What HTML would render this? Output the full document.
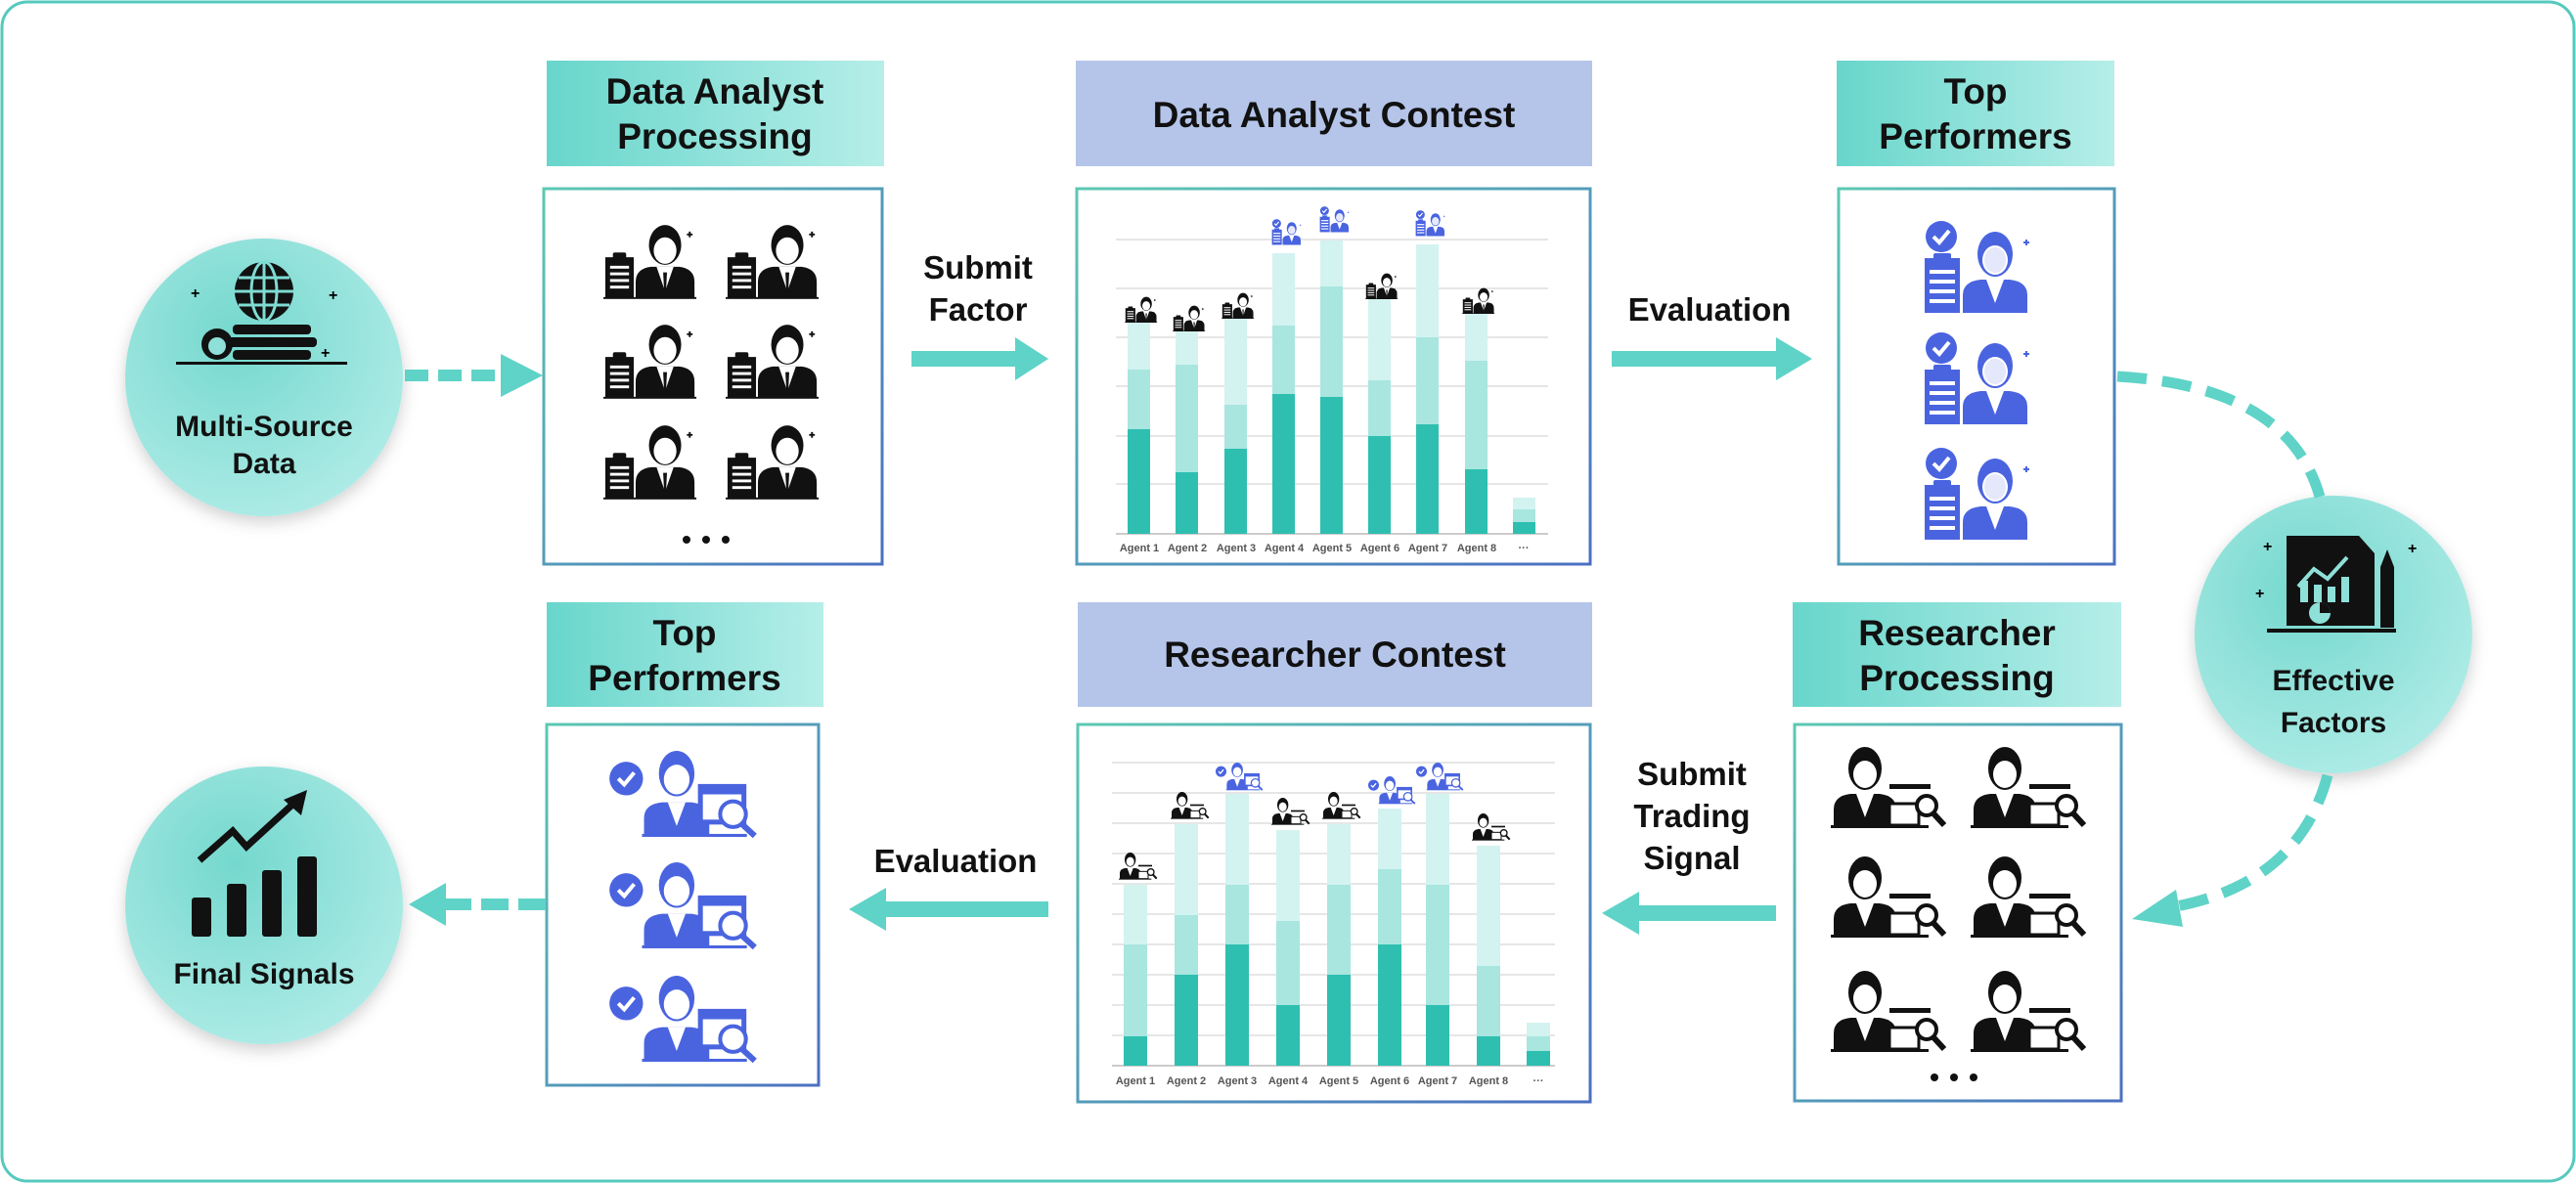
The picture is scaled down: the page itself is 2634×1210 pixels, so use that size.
<!DOCTYPE html>
<html><head><meta charset="utf-8"><style>
html,body{margin:0;padding:0;background:#fff}
svg{display:block}
text{font-family:"Liberation Sans",Arial,sans-serif}
</style></head><body>
<svg width="2634" height="1210" viewBox="0 0 2634 1210" xmlns="http://www.w3.org/2000/svg">
<defs>
<linearGradient id="hg" x1="0" y1="0" x2="1" y2="0"><stop offset="0" stop-color="#68d6cb"/><stop offset="1" stop-color="#b6eee9"/></linearGradient>
<linearGradient id="bd" x1="0" y1="0" x2="1" y2="1"><stop offset="0" stop-color="#5cc8b2"/><stop offset="1" stop-color="#4b6fc1"/></linearGradient>
<radialGradient id="cg" cx="0.4" cy="0.35" r="0.75"><stop offset="0" stop-color="#74d8ce"/><stop offset="1" stop-color="#b3ede8"/></radialGradient>
<filter id="sh" x="-20%" y="-20%" width="140%" height="140%"><feDropShadow dx="0" dy="6" stdDeviation="8" flood-color="#000" flood-opacity="0.18"/></filter>
<symbol id="an" viewBox="0 0 100 80">
<rect x="2" y="36" width="30" height="43" fill="#111"/><rect x="10" y="31" width="14" height="8" rx="2" fill="#111"/>
<rect x="7" y="45" width="20" height="3" fill="#fff"/><rect x="7" y="52" width="20" height="3" fill="#fff"/><rect x="7" y="59" width="20" height="3" fill="#fff"/><rect x="7" y="66" width="20" height="3" fill="#fff"/>
<path d="M34 79 V62 Q34 48 50 46 L80 46 Q96 48 96 62 V79 Z" fill="#111"/>
<path d="M56 46 L65 72 L74 46 Z" fill="#fff"/><path d="M63 52 L67 52 L66 72 L64 72Z" fill="#111"/>
<ellipse cx="65" cy="23" rx="17" ry="21" fill="#111"/><ellipse cx="65" cy="29" rx="12" ry="14" fill="#fff"/>
<path d="M88 12h6M91 9v6" stroke="#111" stroke-width="2"/><rect x="0" y="78" width="98" height="2" fill="#111"/>
</symbol>
<symbol id="bp" viewBox="0 0 120 100">
<circle cx="22" cy="20" r="16" fill="#4a64e0"/><path d="M14 20 L20 26 L30 14" stroke="#fff" stroke-width="4" fill="none"/>
<rect x="5" y="42" width="36" height="56" fill="#4a64e0"/><rect x="14" y="37" width="18" height="8" rx="2" fill="#4a64e0"/>
<rect x="10" y="54" width="26" height="4" fill="#fff"/><rect x="10" y="64" width="26" height="4" fill="#fff"/><rect x="10" y="74" width="26" height="4" fill="#fff"/><rect x="10" y="84" width="26" height="4" fill="#fff"/>
<path d="M44 98 V80 Q44 66 62 64 L92 64 Q110 66 110 80 V98 Z" fill="#4a64e0"/>
<path d="M68 64 L77 88 L86 64 Z" fill="#fff"/>
<ellipse cx="77" cy="38" rx="18" ry="23" fill="#4a64e0"/><ellipse cx="77" cy="44" rx="13" ry="15" fill="#fff"/><ellipse cx="77" cy="44" rx="11" ry="13" fill="#4a64e0" opacity="0.15"/>
<path d="M106 26h6M109 23v6" stroke="#4a64e0" stroke-width="2"/>
</symbol>
<symbol id="rs" viewBox="0 0 120 85">
<path d="M3 84 V66 Q3 52 20 50 L50 50 Q67 52 67 66 V84 Z" fill="#111"/>
<path d="M26 50 L35 74 L44 50 Z" fill="#fff"/>
<ellipse cx="35" cy="24" rx="17" ry="22" fill="#111"/><ellipse cx="35" cy="30" rx="12" ry="14" fill="#fff"/>
<rect x="60" y="40" width="42" height="5" fill="#111"/><rect x="60" y="60" width="30" height="22" fill="#fff" stroke="#111" stroke-width="3"/>
<circle cx="98" cy="62" r="10" fill="#fff" stroke="#111" stroke-width="4"/><path d="M105 70 L116 82" stroke="#111" stroke-width="6"/>
<rect x="0" y="82" width="100" height="3" fill="#111"/>
</symbol>
<symbol id="br" viewBox="0 0 160 90">
<circle cx="20" cy="30" r="17" fill="#4a64e0"/><path d="M12 30 L18 36 L28 24" stroke="#fff" stroke-width="4" fill="none"/>
<path d="M38 88 V70 Q38 56 56 54 L86 54 Q104 56 104 70 V88 Z" fill="#4a64e0"/>
<path d="M62 54 L71 78 L80 54 Z" fill="#fff"/>
<ellipse cx="71" cy="25" rx="18" ry="23" fill="#4a64e0"/><ellipse cx="71" cy="31" rx="13" ry="15" fill="#fff"/>
<rect x="95" y="38" width="44" height="36" fill="#fff" stroke="#4a64e0" stroke-width="5"/><rect x="95" y="38" width="44" height="8" fill="#4a64e0"/>
<circle cx="128" cy="66" r="13" fill="#fff" stroke="#4a64e0" stroke-width="4"/><path d="M137 76 L150 88" stroke="#4a64e0" stroke-width="6"/>
<rect x="36" y="86" width="106" height="3" fill="#4a64e0"/>
</symbol>
</defs>

<rect x="2" y="2" width="2630" height="1206" rx="26" fill="#fff" stroke="#56c9bd" stroke-width="3"/>

<!-- circles -->
<g filter="url(#sh)">
<circle cx="270" cy="386" r="142" fill="url(#cg)"/>
<circle cx="2386" cy="649" r="142" fill="url(#cg)"/>
<circle cx="270" cy="926" r="142" fill="url(#cg)"/>
</g>
<!-- multi-source icon -->
<g>
<circle cx="270" cy="298" r="30" fill="#111"/>
<g stroke="#7fdcd3" stroke-width="3" fill="none"><ellipse cx="270" cy="298" rx="13" ry="30"/><line x1="240" y1="298" x2="300" y2="298"/><line x1="244" y1="284" x2="296" y2="284"/><line x1="244" y1="312" x2="296" y2="312"/><line x1="270" y1="268" x2="270" y2="328"/></g>
<rect x="238" y="332" width="80" height="10" rx="4" fill="#111"/><rect x="232" y="345" width="92" height="10" rx="4" fill="#111"/><rect x="238" y="358" width="80" height="10" rx="4" fill="#111"/>
<circle cx="222" cy="352" r="16" fill="#111"/><circle cx="222" cy="354" r="9" fill="#8ee0d8"/>
<rect x="180" y="370" width="175" height="3" fill="#111"/>
<text x="195" y="305" font-size="16" font-weight="bold">+</text><text x="336" y="307" font-size="16" font-weight="bold">+</text><text x="328" y="366" font-size="16" font-weight="bold">+</text>
<text x="270" y="446" font-size="30" font-weight="bold" text-anchor="middle" fill="#111">Multi-Source</text>
<text x="270" y="484" font-size="30" font-weight="bold" text-anchor="middle" fill="#111">Data</text>
</g>
<!-- effective factors icon -->
<g>
<path d="M2338 548 L2412 548 L2428 566 L2428 640 L2338 640 Z" fill="#111"/>
<path d="M2350 600 L2366 582 L2380 592 L2400 570" stroke="#8ee0d8" stroke-width="4" fill="none"/>
<rect x="2352" y="594" width="8" height="22" fill="#8ee0d8"/><rect x="2366" y="598" width="8" height="18" fill="#8ee0d8"/><rect x="2380" y="600" width="8" height="16" fill="#8ee0d8"/><rect x="2394" y="590" width="8" height="26" fill="#8ee0d8"/>
<circle cx="2372" cy="627" r="11" fill="#8ee0d8"/><path d="M2372 627 L2372 616 A11 11 0 0 1 2383 627Z" fill="#111"/>
<rect x="2434" y="580" width="14" height="62" fill="#111"/><path d="M2434 580 L2441 562 L2448 580Z" fill="#111"/>
<rect x="2318" y="643" width="132" height="4" fill="#111"/>
<text x="2314" y="564" font-size="16" font-weight="bold">+</text><text x="2462" y="566" font-size="16" font-weight="bold">+</text><text x="2306" y="612" font-size="16" font-weight="bold">+</text>
<text x="2386" y="706" font-size="30" font-weight="bold" text-anchor="middle" fill="#111">Effective</text>
<text x="2386" y="749" font-size="30" font-weight="bold" text-anchor="middle" fill="#111">Factors</text>
</g>
<!-- final signals icon -->
<g fill="#111">
<rect x="196" y="918" width="20" height="40" rx="3"/><rect x="232" y="904" width="20" height="54" rx="3"/><rect x="268" y="890" width="20" height="68" rx="3"/><rect x="304" y="876" width="20" height="82" rx="3"/>
<path d="M204 880 L238 850 L252 866 L300 822" stroke="#111" stroke-width="7" fill="none"/>
<path d="M290 818 L314 808 L308 834Z"/>
<text x="270" y="1006" font-size="30" font-weight="bold" text-anchor="middle">Final Signals</text>
</g>

<!-- headers -->
<rect x="559" y="62" width="345" height="108" fill="url(#hg)"/>
<text x="731" y="106" font-size="37" font-weight="bold" text-anchor="middle" fill="#111">Data Analyst</text>
<text x="731" y="152" font-size="37" font-weight="bold" text-anchor="middle" fill="#111">Processing</text>
<rect x="1100" y="62" width="528" height="108" fill="#b5c5ea"/>
<text x="1364" y="130" font-size="37" font-weight="bold" text-anchor="middle" fill="#111">Data Analyst Contest</text>
<rect x="1878" y="62" width="284" height="108" fill="url(#hg)"/>
<text x="2020" y="106" font-size="37" font-weight="bold" text-anchor="middle" fill="#111">Top</text>
<text x="2020" y="152" font-size="37" font-weight="bold" text-anchor="middle" fill="#111">Performers</text>
<rect x="559" y="616" width="283" height="107" fill="url(#hg)"/>
<text x="700" y="660" font-size="37" font-weight="bold" text-anchor="middle" fill="#111">Top</text>
<text x="700" y="706" font-size="37" font-weight="bold" text-anchor="middle" fill="#111">Performers</text>
<rect x="1102" y="616" width="526" height="107" fill="#b5c5ea"/>
<text x="1365" y="682" font-size="37" font-weight="bold" text-anchor="middle" fill="#111">Researcher Contest</text>
<rect x="1833" y="616" width="336" height="107" fill="url(#hg)"/>
<text x="2001" y="660" font-size="37" font-weight="bold" text-anchor="middle" fill="#111">Researcher</text>
<text x="2001" y="706" font-size="37" font-weight="bold" text-anchor="middle" fill="#111">Processing</text>

<!-- boxes -->
<g fill="#fff" stroke="url(#bd)" stroke-width="3">
<rect x="556" y="193" width="346" height="384"/>
<rect x="1101" y="193" width="525" height="384"/>
<rect x="1880" y="193" width="282" height="384"/>
<rect x="559" y="741" width="278" height="369"/>
<rect x="1102" y="741" width="524" height="386"/>
<rect x="1835" y="741" width="334" height="385"/>
</g>

<!-- box1 icons -->
<use href="#an" x="617" y="228" width="97" height="78"/><use href="#an" x="742" y="228" width="97" height="78"/>
<use href="#an" x="617" y="330" width="97" height="78"/><use href="#an" x="742" y="330" width="97" height="78"/>
<use href="#an" x="617" y="433" width="97" height="78"/><use href="#an" x="742" y="433" width="97" height="78"/>
<circle cx="702" cy="552" r="4" fill="#111"/><circle cx="722" cy="552" r="4" fill="#111"/><circle cx="742" cy="552" r="4" fill="#111"/>

<!-- box3 icons -->
<use href="#bp" x="1962" y="222" width="122" height="100"/>
<use href="#bp" x="1962" y="336" width="122" height="100"/>
<use href="#bp" x="1962" y="454" width="122" height="100"/>

<!-- bottom-left box icons -->
<use href="#br" x="620" y="766" width="162" height="91"/>
<use href="#br" x="620" y="880" width="162" height="91"/>
<use href="#br" x="620" y="996" width="162" height="91"/>

<!-- researcher processing icons -->
<use href="#rs" x="1872" y="762" width="120" height="85"/><use href="#rs" x="2015" y="762" width="120" height="85"/>
<use href="#rs" x="1872" y="874" width="120" height="85"/><use href="#rs" x="2015" y="874" width="120" height="85"/>
<use href="#rs" x="1872" y="991" width="120" height="85"/><use href="#rs" x="2015" y="991" width="120" height="85"/>
<circle cx="1978" cy="1102" r="4" fill="#111"/><circle cx="1998" cy="1102" r="4" fill="#111"/><circle cx="2018" cy="1102" r="4" fill="#111"/>

<!-- top chart -->
<g transform="translate(1101,193)">
<g stroke="#e6e6e6" stroke-width="2"><line x1="40" y1="52" x2="482" y2="52"/><line x1="40" y1="102" x2="482" y2="102"/><line x1="40" y1="152" x2="482" y2="152"/><line x1="40" y1="202" x2="482" y2="202"/><line x1="40" y1="253" x2="482" y2="253"/><line x1="40" y1="302" x2="482" y2="302"/></g>
<line x1="40" y1="353" x2="482" y2="353" stroke="#ccc" stroke-width="2"/>
<g>
<rect x="52" y="135" width="23" height="50" fill="#d3f3f0"/><rect x="52" y="185" width="23" height="61" fill="#a8e6df"/><rect x="52" y="246" width="23" height="107" fill="#2ebfb0"/>
<rect x="101" y="143" width="23" height="37" fill="#d3f3f0"/><rect x="101" y="180" width="23" height="110" fill="#a8e6df"/><rect x="101" y="290" width="23" height="63" fill="#2ebfb0"/>
<rect x="151" y="131" width="23" height="90" fill="#d3f3f0"/><rect x="151" y="221" width="23" height="45" fill="#a8e6df"/><rect x="151" y="266" width="23" height="87" fill="#2ebfb0"/>
<rect x="200" y="66" width="23" height="74" fill="#d3f3f0"/><rect x="200" y="140" width="23" height="70" fill="#a8e6df"/><rect x="200" y="210" width="23" height="143" fill="#2ebfb0"/>
<rect x="249" y="53" width="23" height="47" fill="#d3f3f0"/><rect x="249" y="100" width="23" height="113" fill="#a8e6df"/><rect x="249" y="213" width="23" height="140" fill="#2ebfb0"/>
<rect x="298" y="110" width="23" height="86" fill="#d3f3f0"/><rect x="298" y="196" width="23" height="57" fill="#a8e6df"/><rect x="298" y="253" width="23" height="100" fill="#2ebfb0"/>
<rect x="347" y="57" width="23" height="95" fill="#d3f3f0"/><rect x="347" y="152" width="23" height="89" fill="#a8e6df"/><rect x="347" y="241" width="23" height="112" fill="#2ebfb0"/>
<rect x="397" y="125" width="23" height="51" fill="#d3f3f0"/><rect x="397" y="176" width="23" height="111" fill="#a8e6df"/><rect x="397" y="287" width="23" height="66" fill="#2ebfb0"/>
<rect x="446" y="316" width="23" height="12" fill="#d3f3f0"/><rect x="446" y="328" width="23" height="13" fill="#a8e6df"/><rect x="446" y="341" width="23" height="12" fill="#2ebfb0"/>
</g>
<use href="#an" x="49" y="110" width="34" height="27"/><use href="#an" x="98" y="119" width="34" height="27"/><use href="#an" x="148" y="106" width="34" height="27"/>
<use href="#an" x="295" y="86" width="34" height="27"/><use href="#an" x="394" y="101" width="34" height="27"/>
<use href="#bp" x="198" y="30" width="34" height="28"/><use href="#bp" x="247" y="17" width="34" height="28"/><use href="#bp" x="345" y="21" width="34" height="28"/>
<g font-size="11" fill="#555" text-anchor="middle" font-weight="bold">
<text x="64" y="371">Agent 1</text><text x="113" y="371">Agent 2</text><text x="163" y="371">Agent 3</text><text x="212" y="371">Agent 4</text><text x="261" y="371">Agent 5</text><text x="310" y="371">Agent 6</text><text x="359" y="371">Agent 7</text><text x="409" y="371">Agent 8</text><text x="457" y="371">···</text>
</g>
</g>

<!-- bottom chart -->
<g transform="translate(1102,741)">
<g stroke="#e6e6e6" stroke-width="2"><line x1="35" y1="39" x2="488" y2="39"/><line x1="35" y1="70" x2="488" y2="70"/><line x1="35" y1="101" x2="488" y2="101"/><line x1="35" y1="132" x2="488" y2="132"/><line x1="35" y1="163" x2="488" y2="163"/><line x1="35" y1="194" x2="488" y2="194"/><line x1="35" y1="225" x2="488" y2="225"/><line x1="35" y1="256" x2="488" y2="256"/><line x1="35" y1="287" x2="488" y2="287"/><line x1="35" y1="318" x2="488" y2="318"/></g>
<line x1="35" y1="349" x2="488" y2="349" stroke="#ccc" stroke-width="2"/>
<rect x="47" y="164" width="24" height="61" fill="#d3f3f0"/><rect x="47" y="225" width="24" height="94" fill="#a8e6df"/><rect x="47" y="319" width="24" height="30" fill="#2ebfb0"/>
<rect x="99" y="102" width="24" height="93" fill="#d3f3f0"/><rect x="99" y="195" width="24" height="61" fill="#a8e6df"/><rect x="99" y="256" width="24" height="93" fill="#2ebfb0"/>
<rect x="151" y="71" width="24" height="93" fill="#d3f3f0"/><rect x="151" y="164" width="24" height="61" fill="#a8e6df"/><rect x="151" y="225" width="24" height="124" fill="#2ebfb0"/>
<rect x="203" y="108" width="24" height="93" fill="#d3f3f0"/><rect x="203" y="201" width="24" height="86" fill="#a8e6df"/><rect x="203" y="287" width="24" height="62" fill="#2ebfb0"/>
<rect x="255" y="102" width="24" height="62" fill="#d3f3f0"/><rect x="255" y="164" width="24" height="92" fill="#a8e6df"/><rect x="255" y="256" width="24" height="93" fill="#2ebfb0"/>
<rect x="307" y="86" width="24" height="62" fill="#d3f3f0"/><rect x="307" y="148" width="24" height="77" fill="#a8e6df"/><rect x="307" y="225" width="24" height="124" fill="#2ebfb0"/>
<rect x="356" y="71" width="24" height="93" fill="#d3f3f0"/><rect x="356" y="164" width="24" height="123" fill="#a8e6df"/><rect x="356" y="287" width="24" height="62" fill="#2ebfb0"/>
<rect x="408" y="124" width="24" height="123" fill="#d3f3f0"/><rect x="408" y="247" width="24" height="72" fill="#a8e6df"/><rect x="408" y="319" width="24" height="30" fill="#2ebfb0"/>
<rect x="459" y="305" width="24" height="14" fill="#d3f3f0"/><rect x="459" y="319" width="24" height="15" fill="#a8e6df"/><rect x="459" y="334" width="24" height="15" fill="#2ebfb0"/>
<use href="#rs" x="42" y="130" width="40" height="29"/><use href="#rs" x="95" y="68" width="40" height="29"/><use href="#rs" x="198" y="74" width="40" height="29"/><use href="#rs" x="250" y="68" width="40" height="29"/><use href="#rs" x="403" y="90" width="40" height="29"/>
<use href="#br" x="140" y="38" width="52" height="30"/><use href="#br" x="296" y="52" width="52" height="30"/><use href="#br" x="345" y="38" width="52" height="30"/>
<g font-size="11" fill="#555" text-anchor="middle" font-weight="bold">
<text x="59" y="368">Agent 1</text><text x="111" y="368">Agent 2</text><text x="163" y="368">Agent 3</text><text x="215" y="368">Agent 4</text><text x="267" y="368">Agent 5</text><text x="319" y="368">Agent 6</text><text x="368" y="368">Agent 7</text><text x="420" y="368">Agent 8</text><text x="471" y="368">···</text>
</g>
</g>

<!-- connectors -->
<g fill="#5fd3c7">
<!-- top dashed -->
<rect x="414" y="378" width="24" height="12"/><rect x="448" y="378" width="24" height="12"/><rect x="482" y="378" width="24" height="12"/>
<path d="M512 362 L555 384 L512 406Z"/>
<!-- submit factor -->
<rect x="932" y="359" width="110" height="16"/><path d="M1038 345 L1072 367 L1038 389Z"/>
<!-- evaluation top -->
<rect x="1648" y="359" width="172" height="16"/><path d="M1816 345 L1853 367 L1816 389Z"/>
<!-- submit trading signal (left) -->
<rect x="1672" y="926" width="144" height="16"/><path d="M1676 912 L1638 934 L1676 956Z"/>
<!-- evaluation bottom -->
<rect x="904" y="922" width="168" height="16"/><path d="M906 908 L868 930 L906 952Z"/>
<!-- bottom-left dashed -->
<rect x="530" y="919" width="28" height="12"/><rect x="492" y="919" width="28" height="12"/><rect x="456" y="919" width="26" height="12"/>
<path d="M456 903 L418 925 L456 947Z"/>
</g>
<path d="M2165 385 Q2340 395 2372 508" stroke="#5fd3c7" stroke-width="11" fill="none" stroke-dasharray="30 16"/>
<path d="M2380 793 Q2350 905 2220 928" stroke="#5fd3c7" stroke-width="11" fill="none" stroke-dasharray="30 16"/>
<path d="M2225 910 L2180 940 L2232 948Z" fill="#5fd3c7"/>

<!-- connector labels -->
<g font-size="33" font-weight="bold" fill="#111" text-anchor="middle">
<text x="1000" y="285">Submit</text><text x="1000" y="328">Factor</text>
<text x="1748" y="328">Evaluation</text>
<text x="977" y="892">Evaluation</text>
<text x="1730" y="803">Submit</text><text x="1730" y="846">Trading</text><text x="1730" y="889">Signal</text>
</g>
</svg>
</body></html>
